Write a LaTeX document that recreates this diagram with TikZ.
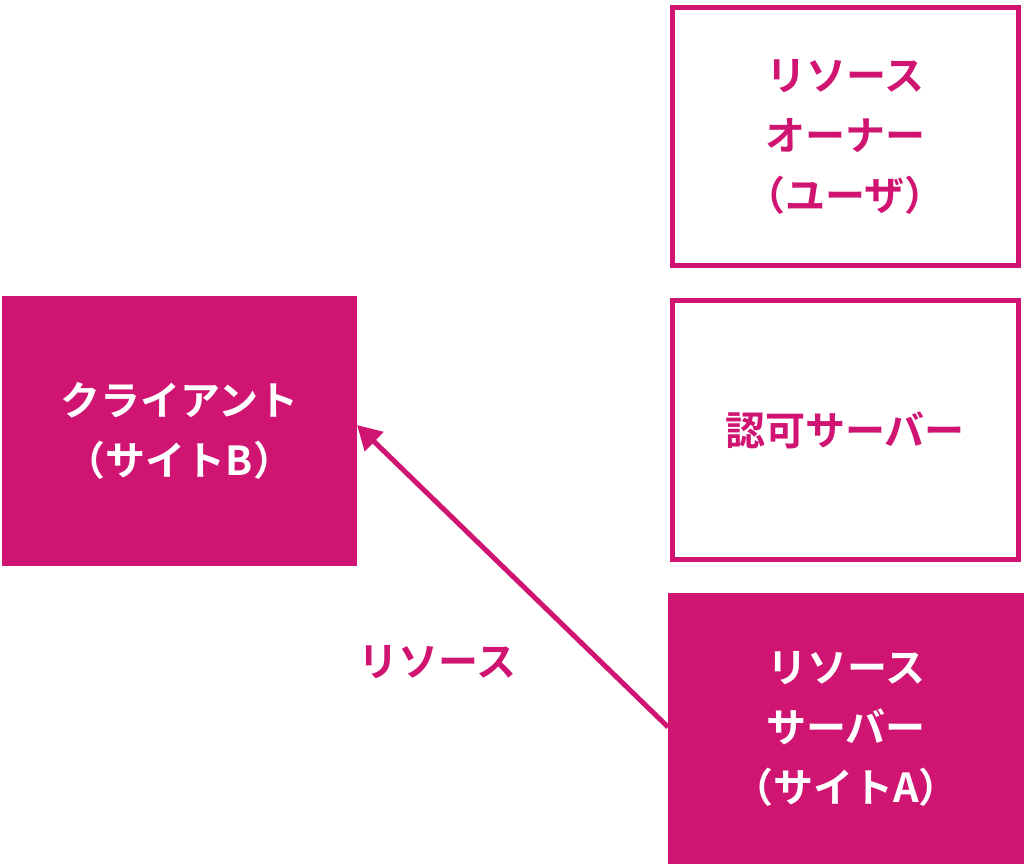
\documentclass[tikz,border=0pt]{standalone}
\usepackage{fontspec}
\newfontfamily\cjk{Noto Sans CJK JP Bold}
\definecolor{mg}{HTML}{D01472}
\usetikzlibrary{arrows.meta}
\begin{document}
\begin{tikzpicture}[x=1pt,y=-1pt,
  txt/.style={font=\cjk\fontsize{40}{60}\selectfont,align=center},
  obox/.style={draw=mg,line width=5pt,fill=white,text=mg,txt},
  fbox/.style={fill=mg,text=white,txt}]
\useasboundingbox (0,0) rectangle (1024,864);
\node[obox,minimum width=346,minimum height=258] (owner) at (845,136.5) {リソース\\オーナー\\（ユーザ）};
\node[obox,minimum width=346,minimum height=259] (auth) at (845,430) {認可サーバー};
\node[fbox,minimum width=356,minimum height=271] (rs) at (846,728.5) {リソース\\サーバー\\（サイトA）};
\node[fbox,minimum width=355,minimum height=270] (cl) at (179.5,431) {クライアント\\（サイトB）};
\coordinate (a1) at (668,727);
\coordinate (a2) at (357,425);
\draw[mg,line width=5pt,-{Triangle[length=24pt,width=26pt]}] (a1) -- (a2);
\node[txt,text=mg] (lbl) at (437,662) {リソース};
\end{tikzpicture}
\end{document}
